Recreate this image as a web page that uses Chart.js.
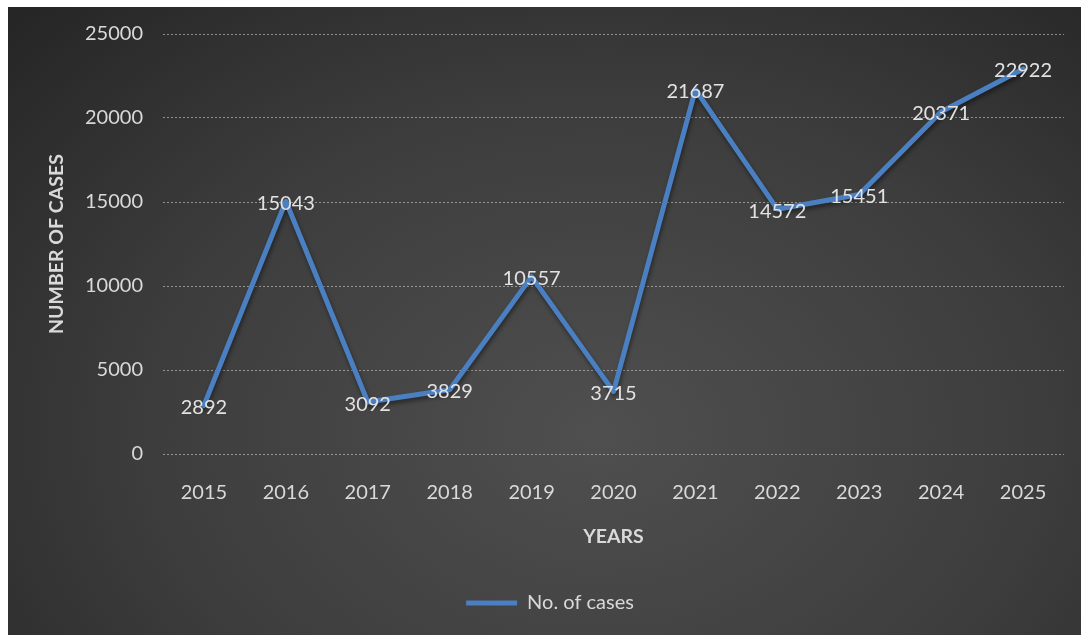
<!DOCTYPE html>
<html>
<head>
<meta charset="utf-8">
<script src="https://cdn.jsdelivr.net/npm/chart.js@4.4.1/dist/chart.umd.min.js"></script>
<style>
  html, body { margin: 0; padding: 0; background: #fff; width: 1081px; height: 635px; overflow: hidden; }
  #wrap {
    position: absolute; left: 8px; top: 7px; width: 1073px; height: 628px;
    background: radial-gradient(ellipse 75% 95% at 55% 68%, #4f4f4f 0%, #3d3d3d 55%, #262626 100%);
  }
</style>
</head>
<body>
<div id="wrap"><canvas id="casesChart"></canvas></div>
<script>
// ─── Data ────────────────────────────────────────────────────────────────────
const years = ['2015', '2016', '2017', '2018', '2019', '2020', '2021', '2022', '2023', '2024', '2025'];
const cases = [2892, 15043, 3092, 3829, 10557, 3715, 21687, 14572, 15451, 20371, 22922];
const yTicks = [0, 5000, 10000, 15000, 20000, 25000];

const TEXT = '#d9d9d9';
const LINE = '#4a7fc1';
Chart.defaults.font.family = 'Lato, "Open Sans", sans-serif';

// ─── Plugins: line shadow + centred value labels ─────────────────────────────
Chart.register({
  id: 'lineShadow',
  beforeDatasetDraw(chart) {
    const { ctx } = chart;
    ctx.save();
    ctx.shadowColor = 'rgba(0,0,0,0.45)';
    ctx.shadowBlur = 4;
    ctx.shadowOffsetX = 1;
    ctx.shadowOffsetY = 3;
  },
  afterDatasetDraw(chart) { chart.ctx.restore(); }
});

Chart.register({
  id: 'valueLabels',
  afterDatasetsDraw(chart) {
    const { ctx } = chart;
    const meta = chart.getDatasetMeta(0);
    ctx.save();
    ctx.font = '20px Lato, "Open Sans", sans-serif';
    ctx.fillStyle = '#e2e2e2';
    ctx.textAlign = 'center';
    ctx.textBaseline = 'middle';
    meta.data.forEach((pt, i) => {
      ctx.fillText(String(cases[i]), pt.x, pt.y + 2);
    });
    ctx.restore();
  }
});

// ─── Chart ───────────────────────────────────────────────────────────────────
new Chart(document.getElementById('casesChart'), {
  type: 'line',
  data: {
    labels: years,
    datasets: [{
      label: 'No. of cases', data: cases,
      borderColor: LINE, backgroundColor: LINE, borderWidth: 5,
      pointRadius: 0, tension: 0, borderJoinStyle: 'round', borderCapStyle: 'round', fill: false
    }]
  },
  options: {
    responsive: true, maintainAspectRatio: false, animation: false,
    layout: { padding: { top: 27, right: 17, bottom: 12, left: 28 } },
    plugins: {
      tooltip: { enabled: false },
      legend: {
        position: 'bottom',
        labels: {
          color: TEXT, font: { size: 20 }, usePointStyle: true, pointStyle: 'line',
          pointStyleWidth: 51, padding: 10
        }
      }
    },
    scales: {
      x: {
        offset: true,
        grid: { display: false }, border: { display: false },
        ticks: { color: TEXT, font: { size: 20 }, padding: 19 },
        title: { display: true, text: 'YEARS', color: TEXT, font: { size: 19.5, weight: 'bold' }, padding: { top: 0, bottom: 35 } },
        afterFit(scale) { scale.height = 129; }
      },
      y: {
        min: 0, max: 25000,
        afterBuildTicks(scale) { scale.ticks = yTicks.map(v => ({ value: v })); },
        grid: { color: 'rgba(205,205,205,0.6)', lineWidth: 1, drawTicks: true, tickLength: 20, tickColor: 'rgba(0,0,0,0)' },
        border: { display: false, dash: [2, 2] },
        ticks: { color: TEXT, font: { size: 20 }, padding: 0, callback: v => String(v) },
        title: { display: true, text: 'NUMBER OF CASES', color: TEXT, font: { size: 19.5, weight: 'bold' }, padding: { top: 9, bottom: 0 } },
        afterFit(scale) { scale.width = 127; }
      }
    }
  }
});
</script>
</body>
</html>
